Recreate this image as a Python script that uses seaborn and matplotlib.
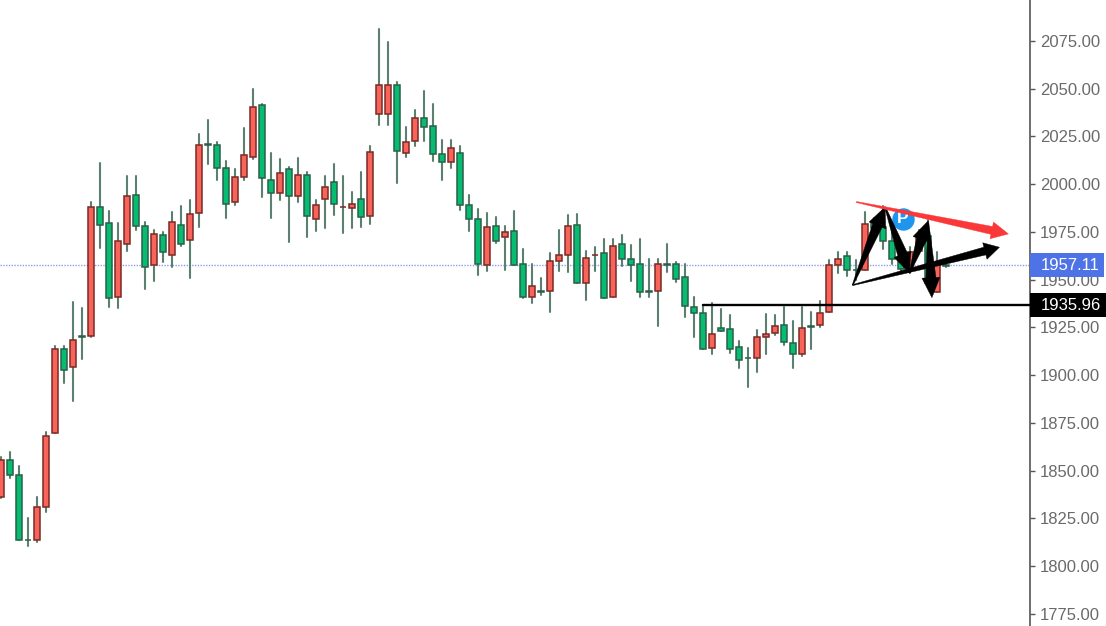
import numpy as np
import pandas as pd
import matplotlib
matplotlib.use("Agg")
import matplotlib.pyplot as plt
from matplotlib.patches import Polygon, Rectangle
from matplotlib.transforms import IdentityTransform
import seaborn as sns

# body_top, body_bottom, high, low and direction of each candle (1 = up/red, 0 = down/green)
body_top = [1855.6,1855.6,1847.8,1813.9,1831.2,1868.3,1913.7,1913.7,1918.4,1920.3,1988.2,1988.2,1979.7,1970.3,1993.8,1994.5,1978.1,1974.1,1973.4,1980.4,
 1978.8,1984.4,2020.5,2020.9,2020.5,2008.6,2003.9,2015.1,2040.4,2041.5,2002.4,2005.7,2008.1,2004.8,2004.8,1989.1,1998.5,2001.0,1988.3,1989.8,
 1992.2,2016.7,2052.0,2052.0,2052.0,2022.1,2034.7,2034.7,2030.7,2015.7,2018.8,2016.5,1989.0,1982.0,1977.5,1978.0,1975.0,1975.7,1958.4,1946.7,
 1944.0,1960.0,1963.2,1978.2,1978.9,1961.6,1962.9,1963.8,1967.9,1968.7,1960.7,1958.4,1944.0,1958.4,1958.1,1958.4,1951.5,1935.8,1932.8,1921.6,
 1924.8,1924.1,1914.6,1909.1,1920.0,1921.6,1925.6,1926.3,1916.9,1924.8,1925.6,1932.6,1957.7,1960.9,1962.4,1955.3,1979.0,1979.5,1977.5,1970.3,
 1962.1,1964.7,1972.7,1972.7,1957.7,1957.6]
body_bot = [1836.4,1847.6,1813.7,1813.6,1813.7,1831.2,1869.6,1902.6,1904.1,1920.0,1920.5,1978.8,1940.2,1941.1,1968.5,1977.9,1956.8,1957.5,1964.7,1963.1,
 1968.5,1971.0,1985.1,2020.6,2008.6,1989.8,1990.5,2003.9,2014.3,2003.3,1995.2,1995.2,1993.6,1993.6,1983.5,1981.9,1992.1,1989.8,1988.1,1987.4,
 1982.6,1983.6,2036.8,2036.8,2017.2,2016.5,2022.8,2029.8,2015.7,2011.8,2011.8,1989.0,1982.0,1958.4,1957.7,1970.1,1972.4,1957.6,1941.2,1941.2,
 1943.7,1944.3,1960.0,1963.2,1948.1,1948.1,1962.7,1940.5,1941.2,1960.7,1957.6,1943.4,1943.7,1944.3,1957.8,1950.6,1936.5,1932.4,1913.6,1914.5,
 1923.0,1913.6,1908.2,1908.8,1908.9,1919.9,1922.3,1917.6,1911.3,1911.3,1925.3,1926.2,1933.3,1957.7,1955.3,1955.0,1955.3,1977.0,1970.3,1960.7,
 1955.5,1955.1,1965.2,1948.1,1943.4,1957.1]
high = [1857.4,1859.6,1852.6,1825.1,1836.1,1870.4,1915.5,1915.5,1938.1,1935.0,1990.8,2011.3,1986.1,1979.9,2004.3,2004.3,1980.4,1975.8,1975.0,1985.3,
 1988.4,1991.7,2026.1,2033.6,2022.3,2012.0,2008.1,2029.2,2049.9,2042.0,2016.1,2013.0,2008.8,2013.5,2006.6,1991.7,2004.3,2010.6,2004.3,1995.7,
 2006.6,2019.9,2081.3,2074.3,2053.7,2030.2,2038.9,2049.0,2042.0,2023.0,2023.0,2019.9,1994.2,1986.9,1984.8,1983.0,1978.3,1986.2,1965.9,1958.1,
 1950.8,1964.2,1975.9,1983.7,1984.6,1964.9,1967.3,1971.2,1971.2,1973.6,1968.0,1971.2,1961.1,1961.1,1968.9,1959.5,1958.1,1940.8,1936.6,1937.7,
 1934.5,1931.4,1918.0,1914.1,1923.5,1931.9,1931.4,1935.9,1928.4,1935.9,1933.0,1939.1,1960.4,1964.4,1964.4,1960.4,1985.3,1982.2,1988.8,1975.2,
 1965.6,1967.0,1976.1,1981.3,1964.4,1958.3]
low = [1835.5,1846.0,1813.7,1810.6,1812.9,1828.6,1869.6,1896.1,1886.7,1908.7,1919.8,1966.8,1935.9,1935.4,1965.2,1976.2,1945.0,1949.5,1959.4,1956.5,
 1967.6,1951.1,1977.8,2010.7,2002.0,1982.5,1989.3,2002.0,2013.2,1993.3,1982.5,1991.7,1969.9,1990.8,1972.2,1975.3,1976.9,1983.9,1974.6,1976.9,
 1977.8,1979.4,2031.2,2031.2,2000.5,2014.5,2020.0,2022.5,2012.4,2002.1,2008.3,1986.4,1975.4,1952.5,1954.8,1969.1,1955.0,1957.6,1940.3,1937.7,
 1941.9,1933.0,1954.8,1954.3,1948.1,1939.2,1954.8,1940.3,1940.8,1957.2,1949.5,1940.8,1940.8,1926.0,1954.3,1948.7,1930.7,1920.2,1913.6,1911.0,
 1923.0,1911.8,1904.0,1893.7,1901.5,1911.0,1921.3,1915.7,1904.0,1910.3,1913.6,1925.3,1933.0,1953.4,1952.2,1949.9,1955.1,1972.6,1965.9,1958.1,
 1954.2,1953.4,1963.8,1947.3,1943.4,1956.5]
is_up = [1,0,0,0,1,1,1,0,1,0,1,0,0,1,1,0,0,1,0,1,
 0,1,1,0,0,0,1,1,1,0,0,1,0,1,0,1,1,0,1,1,
 0,1,1,1,0,1,1,0,0,0,1,0,0,0,1,0,1,0,0,1,
 0,1,1,1,0,1,1,0,1,0,0,0,0,1,0,0,0,0,0,1,
 0,0,0,0,1,1,1,0,0,1,0,1,1,1,0,0,1,0,0,0,
 0,1,1,0,1,0]

y_ticks = [1775,1800,1825,1850,1875,1900,1925,1950,1975,2000,2025,2050,2075]
last_label, last_pos = "1957.11", 1957.7
level_label, level_pos = "1935.96", 1936.6
level_start = 78

# drawn annotations: (index, price) start and tip
arrows_black = [((94.6,1947.2),(98.2,1988.1)),((98.2,1988.1),(100.9,1953.5)),
                ((100.9,1953.5),(103.0,1980.9)),((103.0,1979.7),(103.4,1940.6))]
arrow_long = ((94.6,1947.2),(110.9,1967.0))
arrow_red = ((95.0,1990.7),(111.9,1974.0))
badge = (100.2,1982.0)

RED, RED_E = "#F9645A", "#7A2A25"
GRN, GRN_E = "#06BC70", "#2A6049"
WICK = "#5C8070"

sns.set_theme(style="white")
plt.rcParams["font.family"] = ["Liberation Sans", "DejaVu Sans"]

fig = plt.figure(figsize=(11.06, 6.26), dpi=100)
ax = fig.add_axes([0, 0, 1030/1106, 1])
ax.set_xlim(-0.144, 114.3)
ax.set_ylim(1768.7, 2096.47)

idx = np.arange(len(high))
top, bot, up = np.array(body_top), np.array(body_bot), np.array(is_up, dtype=bool)

wicks = pd.DataFrame({"i": np.r_[idx, idx], "price": np.r_[high, low]})
wicks["x"] = wicks["i"]
sns.lineplot(data=wicks, x="x", y="price", units="i", estimator=None, sort=False,
             color=WICK, lw=1.5, ax=ax, zorder=2, legend=False)

ax.bar(idx[up], (top-bot)[up], bottom=bot[up], width=0.68, color=RED, edgecolor=RED_E, lw=1.1, zorder=3)
ax.bar(idx[~up], (top-bot)[~up], bottom=bot[~up], width=0.68, color=GRN, edgecolor=GRN_E, lw=1.1, zorder=3)

ax.axhline(last_pos, color="#8A9EEA", lw=1, ls=(0, (1, 1)), zorder=1)
ax.plot([level_start, ax.get_xlim()[1]], [level_pos, level_pos], color="black", lw=1.7, zorder=4)

ax.scatter(*badge, s=260, color="#1E96F0", zorder=5, linewidths=0)
ax.text(*badge, "P", color="white", ha="center", va="center", fontsize=12.5, fontweight="bold", zorder=6)

def arrow(p0, p1, w0, w1, head_w, head_len, color, z):
    a, b = ax.transData.transform([p0, p1])
    d = b - a
    length = np.hypot(*d)
    u = d / length
    n = np.array([-u[1], u[0]])
    neck = b - u * head_len
    pts = [a + n*w0/2, neck + n*w1/2, neck + n*head_w/2, b,
           neck - n*head_w/2, neck - n*w1/2, a - n*w0/2]
    ax.add_patch(Polygon(pts, closed=True, facecolor=color, edgecolor=color, lw=0.3,
                         transform=IdentityTransform(), zorder=z))

fig.canvas.draw()
for s, t in arrows_black:
    arrow(s, t, 1, 10, 18, 20, "black", 7)
arrow(*arrow_long, 1, 8, 17, 15, "black", 7)
arrow(*arrow_red, 1, 8, 17, 17, "#FB3838", 8)

# axis
for sp in ("top", "left", "bottom"):
    ax.spines[sp].set_visible(False)
ax.spines["right"].set_visible(True)
ax.spines["right"].set_color("#555555")
ax.spines["right"].set_linewidth(1.2)
ax.set_xticks([])
ax.set_xlabel("")
ax.set_ylabel("")
ax.yaxis.tick_right()
ax.set_yticks(y_ticks, [f"{t:.2f}" for t in y_ticks])
ax.tick_params(axis="y", length=3.8, width=1, color="#555555", labelcolor="#6A6A6A", labelsize=12, pad=3.2, right=True)

# price tags
trans = ax.get_yaxis_transform()
for pos, label, bg, x1 in ((last_pos, last_label, "#4E73E6", 1104), (level_pos, level_label, "black", 1106)):
    h = 12 * (ax.get_ylim()[1]-ax.get_ylim()[0]) / 626
    ax.add_patch(Rectangle((1, pos-h), (x1-1030)/1030, 2*h, facecolor=bg, edgecolor="none",
                           transform=trans, clip_on=False, zorder=10))
    ax.text(1 + 10.5/1030, pos, label, transform=trans, color="white", fontsize=12,
            va="center", ha="left", zorder=11, clip_on=False)

fig.savefig("out.png", dpi=100)
